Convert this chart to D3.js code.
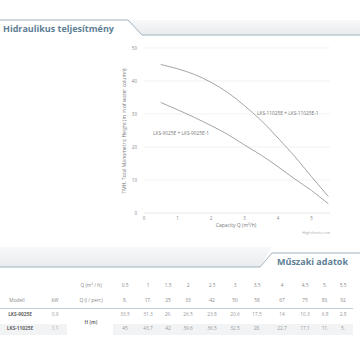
<!DOCTYPE html>
<html>
<head>
<meta charset="utf-8">
<script src="https://cdn.jsdelivr.net/npm/d3@7"></script>
<style>
  body { margin: 0; background: #fff; }
  svg { display: block; font-family: "Open Sans", sans-serif; }
</style>
</head>
<body>
<div id="chart"></div>
<script>
// data
const flowM3h = [0.5, 1, 1.5, 2, 2.5, 3, 3.5, 4, 4.5, 5, 5.5];
const flowLabels = ["0.5", "1", "1.5", "2", "2.5", "3", "3.5", "4", "4.5", "5.", "5.5"];
const flowLpm = ["8.", "17.", "25", "33", "42", "50", "58", "67", "75", "83.", "92"];
const head9025 = [33.5, 31.3, 29, 26.5, 23.8, 20.6, 17.5, 14, 10.3, 6.8, 2.8];
const head11025 = [45, 43.7, 42, 39.6, 36.5, 32.5, 28, 22.7, 17.1, 11, 5];
const head9025Text = ["33.5", "31.3", "29.", "26.5", "23.8", "20.6", "17.5", "14", "10.3", "6.8", "2.8"];
const head11025Text = ["45", "43.7", "42", "39.6", "36.5", "32.5", "28.", "22.7", "17.1", "11.", "5."];
const models = ["LKS-9025E", "LKS-11025E"];
const powerKw = ["0.9", "1.1"];
const yTicks = [0, 10, 20, 30, 40, 50];
const xTicks = [0, 1, 2, 3, 4, 5];

const W = 360, H = 360;
const accent = "#5d8095";

const svg = d3.select("#chart").append("svg")
    .attr("width", W).attr("height", H);

const defs = svg.append("defs");
const grad = defs.append("linearGradient").attr("id", "band")
    .attr("x1", 0).attr("y1", 0).attr("x2", 0).attr("y2", 1);
grad.append("stop").attr("offset", 0).attr("stop-color", "#f7f8f9");
grad.append("stop").attr("offset", 1).attr("stop-color", "#e9ecee");

// shrink a heading until it fits the width seen in the picture
function fitText(sel, width) {
  let fs = +sel.attr("font-size");
  while (sel.node().getComputedTextLength() > width && fs > 6) {
    fs -= 0.25;
    sel.attr("font-size", fs);
  }
}

// top header
svg.append("path")
    .attr("d", "M128,20 L360,20 L360,35 L142,35 Z")
    .attr("fill", "url(#band)");
svg.append("path")
    .attr("d", "M0,20 L128,20 L142,35 L360,35")
    .attr("fill", "none").attr("stroke", "#9fb1bd").attr("stroke-width", 1);
const t1 = svg.append("text")
    .attr("x", 3).attr("y", 32)
    .attr("font-size", 12).attr("font-weight", "bold")
    .attr("fill", accent)
    .text("Hidraulikus teljesítmény");
fitText(t1, 112);

// chart
const x = d3.scaleLinear().domain([0, 5.55]).range([144, 330]);
const y = d3.scaleLinear().domain([0, 50]).range([213, 48]);

const grid = svg.append("g");
grid.selectAll("line").data(yTicks).join("line")
    .attr("x1", x(0)).attr("x2", 330)
    .attr("y1", d => y(d)).attr("y2", d => y(d))
    .attr("stroke", d => d === 0 ? "#d8dde6" : "#ececec")
    .attr("stroke-width", 0.7);

svg.append("g").selectAll("text").data(yTicks).join("text")
    .attr("x", 137).attr("y", d => y(d) + 1.5)
    .attr("text-anchor", "end")
    .attr("font-size", 4.5).attr("fill", "#888")
    .text(d => d);

svg.append("g").selectAll("text").data(xTicks).join("text")
    .attr("x", d => x(d)).attr("y", 220)
    .attr("text-anchor", "middle")
    .attr("font-size", 4.5).attr("fill", "#888")
    .text(d => d);

svg.append("text")
    .attr("x", 236).attr("y", 227)
    .attr("text-anchor", "middle")
    .attr("font-size", 5).attr("fill", "#777")
    .text("Capacity Q (m³/h)");

svg.append("text")
    .attr("transform", "translate(126,131) rotate(-90)")
    .attr("text-anchor", "middle")
    .attr("font-size", 5).attr("fill", "#777")
    .text("TMH, Total Manometric Height (m in of water column)");

svg.append("text")
    .attr("x", 330).attr("y", 234)
    .attr("text-anchor", "end")
    .attr("font-size", 3.8).attr("fill", "#aaa")
    .text("Highcharts.com");

const line = d3.line()
    .x((d, i) => x(flowM3h[i]))
    .y(d => y(d))
    .curve(d3.curveMonotoneX);

[head9025, head11025].forEach(s => {
  svg.append("path")
      .attr("d", line(s))
      .attr("fill", "none")
      .attr("stroke", "#9a9a9a")
      .attr("stroke-width", 0.9);
});

svg.append("text")
    .attr("x", 257).attr("y", 114.5)
    .attr("font-size", 4.8).attr("fill", "#777")
    .text("LKS-11025E + LKS-11025E-1");
svg.append("text")
    .attr("x", 153).attr("y", 134.5)
    .attr("font-size", 4.8).attr("fill", "#777")
    .text("LKS-9025E + LKS-9025E-1");

// bottom header
svg.append("path")
    .attr("d", "M0,247 L272,247 L260,267 L0,267 Z")
    .attr("fill", "url(#band)");
svg.append("path")
    .attr("d", "M0,267 L260,267 L272,253 L360,253")
    .attr("fill", "none").attr("stroke", "#9fb1bd").attr("stroke-width", 1);
const t2 = svg.append("text")
    .attr("x", 277).attr("y", 265)
    .attr("font-size", 12).attr("font-weight", "bold")
    .attr("fill", accent)
    .text("Műszaki adatok");
fitText(t2, 72);

// table
const colX = [125, 148, 168, 188, 212, 235, 257, 282, 305, 325, 343];
const rowY = [287, 302, 316, 330];
const tbl = svg.append("g").attr("font-size", 4.8).attr("text-anchor", "middle");

// band on second model row
tbl.append("rect").attr("x", 0).attr("y", 324).attr("width", 67).attr("height", 11).attr("fill", "#f1f3f5");
tbl.append("rect").attr("x", 113).attr("y", 324).attr("width", 240).attr("height", 11).attr("fill", "#f1f3f5");
tbl.append("line").attr("x1", 0).attr("x2", 353).attr("y1", 308.5).attr("y2", 308.5)
    .attr("stroke", "#b5c0c8").attr("stroke-width", 0.8);

tbl.append("text").attr("x", 91).attr("y", rowY[0]).attr("fill", "#888").text("Q (m³ / h)");
tbl.selectAll(".q").data(flowLabels).join("text")
    .attr("x", (d, i) => colX[i]).attr("y", rowY[0]).attr("fill", "#888").text(d => d);

tbl.append("text").attr("x", 17).attr("y", rowY[1]).attr("fill", "#888").text("Modell");
tbl.append("text").attr("x", 55).attr("y", rowY[1]).attr("fill", "#888").text("kW");
tbl.append("text").attr("x", 91).attr("y", rowY[1]).attr("fill", "#888").text("Q (l / perc)");
tbl.selectAll(".l").data(flowLpm).join("text")
    .attr("x", (d, i) => colX[i]).attr("y", rowY[1]).attr("fill", "#888").text(d => d);

models.forEach((m, r) => {
  tbl.append("text").attr("x", 20).attr("y", rowY[2 + r])
      .attr("font-weight", "bold").attr("fill", "#666").text(m);
  tbl.append("text").attr("x", 55).attr("y", rowY[2 + r]).attr("fill", "#999").text(powerKw[r]);
});
tbl.append("text").attr("x", 91).attr("y", 323.5)
    .attr("font-weight", "bold").attr("fill", "#777").text("H (m)");

[head9025Text, head11025Text].forEach((row, r) => {
  tbl.append("g").selectAll("text").data(row).join("text")
      .attr("x", (d, i) => colX[i]).attr("y", rowY[2 + r])
      .attr("fill", "#999").text(d => d);
});
</script>
</body>
</html>
